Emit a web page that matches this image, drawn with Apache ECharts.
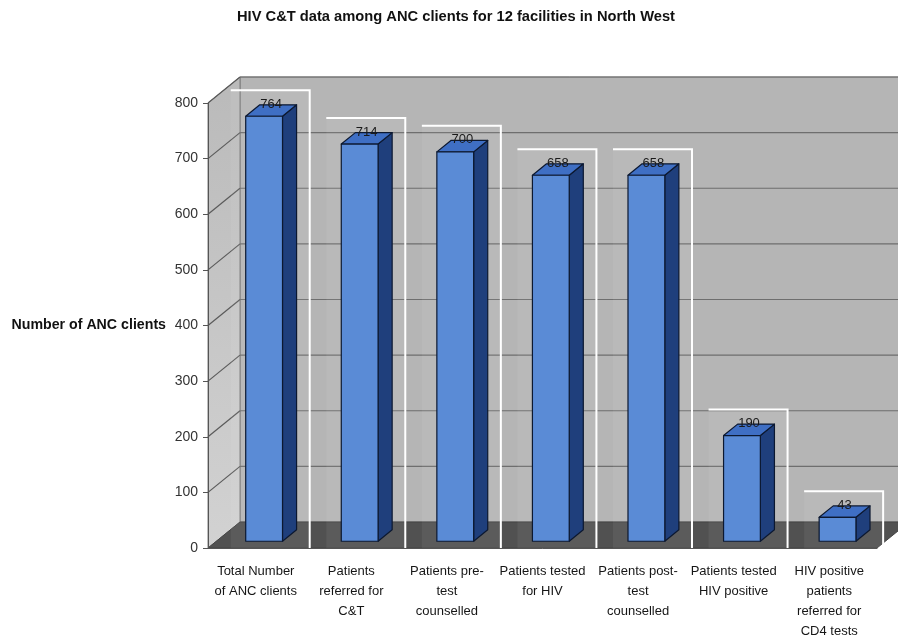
<!DOCTYPE html>
<html>
<head>
<meta charset="utf-8">
<script src="https://cdn.jsdelivr.net/npm/echarts@6/dist/echarts.min.js"></script>
<style>
  html, body { margin: 0; padding: 0; background: #ffffff; }
  #chart { width: 898px; height: 641px; }
</style>
</head>
<body>
<div id="chart"></div>
<script>
// ---- data ----
const categories = [
  'Total Number\nof ANC clients',
  'Patients\nreferred for\nC&T',
  'Patients pre-\ntest\ncounselled',
  'Patients tested\nfor HIV',
  'Patients post-\ntest\ncounselled',
  'Patients tested\nHIV positive',
  'HIV positive\npatients\nreferred for\nCD4 tests'
];
const clientCounts = [764, 714, 700, 658, 658, 190, 43];
const yTicks = [0, 100, 200, 300, 400, 500, 600, 700, 800];
const chartTitle = 'HIV C&T data among ANC clients for 12 facilities in North West';
const yAxisTitle = 'Number of ANC clients';

// ---- 3D look ----
const FONT = '"Liberation Sans", Arial, Helvetica, sans-serif';
const DX = 32, DY = -26;          // depth of the plot box (pixels)
const BAR_OFFSET = 0.26;          // bar front plane, as a share of the depth
const BAR_DEPTH = 0.44;           // bar thickness, as a share of the depth
const BAR_WIDTH = 0.385;          // front face width, as a share of the band

const yMax = yTicks[yTicks.length - 1];

// Walls, floor and gridlines of the 3D box
function renderWalls(params, api) {
  const n = categories.length;
  const bw = api.size([1, 0])[0];
  const x0 = api.coord([0, 0])[0] - bw / 2;
  const x1 = api.coord([n - 1, 0])[0] + bw / 2;
  const yBase = api.coord([0, 0])[1];
  const yTop = api.coord([0, yMax])[1];
  const children = [];

  // back wall
  children.push({
    type: 'polygon',
    shape: { points: [[x0 + DX, yTop + DY], [x1 + DX, yTop + DY], [x1 + DX, yBase + DY], [x0 + DX, yBase + DY]] },
    style: { fill: '#b5b5b5', stroke: '#7d7d7d', lineWidth: 1 }
  });
  // left side wall
  children.push({
    type: 'polygon',
    shape: { points: [[x0, yTop], [x0 + DX, yTop + DY], [x0 + DX, yBase + DY], [x0, yBase]] },
    style: {
      fill: { type: 'linear', x: 0, y: 0, x2: 0, y2: 1,
        colorStops: [{ offset: 0, color: '#bababa' }, { offset: 1, color: '#d2d2d2' }] },
      stroke: '#7d7d7d', lineWidth: 1
    }
  });
  // gridlines on both walls
  yTicks.forEach(function (v) {
    if (v === 0) return;
    const y = api.coord([0, v])[1];
    children.push({
      type: 'line',
      shape: { x1: x0 + DX, y1: y + DY, x2: x1 + DX, y2: y + DY },
      style: { stroke: '#6e6e6e', lineWidth: 1.2 }
    });
    children.push({
      type: 'line',
      shape: { x1: x0, y1: y, x2: x0 + DX, y2: y + DY },
      style: { stroke: '#5a5a5a', lineWidth: 1.2 }
    });
  });
  // floor
  children.push({
    type: 'polygon',
    shape: { points: [[x0, yBase], [x1, yBase], [x1 + DX, yBase + DY], [x0 + DX, yBase + DY]] },
    style: { fill: '#515151', stroke: '#444444', lineWidth: 1 }
  });
  return { type: 'group', children: children };
}

function barGeometry(api) {
  const i = api.value(0), v = api.value(1);
  const base = api.coord([i, 0]);
  const top = api.coord([i, v]);
  const bw = api.size([1, 0])[0];
  const w = bw * BAR_WIDTH;
  const ox = DX * BAR_OFFSET, oy = DY * BAR_OFFSET;
  const dx = DX * BAR_DEPTH, dy = DY * BAR_DEPTH;
  const xl = base[0] - w / 2 + ox;
  return { xl: xl, xr: xl + w, yb: base[1] + oy, yt: top[1] + oy, dx: dx, dy: dy, w: w, yAxis: base[1], v: v };
}

// Light frames standing behind each bar
function renderFrames(params, api) {
  const g = barGeometry(api);
  const left = g.xl - 15, right = g.xl + 64, top = g.yt - 26, bottom = g.yAxis + 3;
  return {
    type: 'group',
    children: [
      { type: 'rect', shape: { x: left, y: top, width: right - left, height: bottom - top },
        style: { fill: 'rgba(255,255,255,0.06)' } },
      { type: 'polyline', shape: { points: [[left, top], [right, top], [right, bottom]] },
        style: { stroke: '#ffffff', lineWidth: 2, fill: null } }
    ]
  };
}

// 3D bars: front face, side, top, and the value label
function renderBar(params, api) {
  const g = barGeometry(api);
  const edge = { stroke: '#0c1830', lineWidth: 1.2, lineJoin: 'round' };
  return {
    type: 'group',
    children: [
      { type: 'polygon',
        shape: { points: [[g.xr, g.yt], [g.xr + g.dx, g.yt + g.dy], [g.xr + g.dx, g.yb + g.dy], [g.xr, g.yb]] },
        style: Object.assign({ fill: '#1f3f7c' }, edge) },
      { type: 'polygon',
        shape: { points: [[g.xl, g.yt], [g.xl + g.dx, g.yt + g.dy], [g.xr + g.dx, g.yt + g.dy], [g.xr, g.yt]] },
        style: Object.assign({ fill: '#3f6fc4' }, edge) },
      { type: 'rect',
        shape: { x: g.xl, y: g.yt, width: g.w, height: g.yb - g.yt },
        style: Object.assign({ fill: '#5a8bd6' }, edge) },
      { type: 'text',
        style: { text: String(g.v), x: (g.xl + g.xr) / 2 + g.dx / 2, y: g.yt - 12,
          align: 'center', verticalAlign: 'middle',
          font: '13px ' + FONT, fill: '#1a1a1a' } }
    ]
  };
}

const barData = clientCounts.map(function (v, i) { return [i, v]; });

const chart = echarts.init(document.getElementById('chart'), null, { renderer: 'canvas' });
chart.setOption({
  animation: false,
  backgroundColor: '#ffffff',
  title: {
    text: chartTitle,
    left: 232,
    top: 4,
    padding: 5,
    textStyle: { fontFamily: FONT, fontSize: 14.7, fontWeight: 'bold', color: '#111111' }
  },
  grid: { left: 208, right: 21, top: 103, bottom: 91, containLabel: false },
  xAxis: {
    type: 'category',
    data: categories,
    z: 10,
    axisLine: { lineStyle: { color: '#555555', width: 1 } },
    axisTick: { length: 4, lineStyle: { color: '#555555' } },
    axisLabel: { interval: 0, fontFamily: FONT, fontSize: 13, lineHeight: 20, color: '#161616', margin: 13 },
    splitLine: { show: false }
  },
  yAxis: {
    type: 'value',
    min: 0,
    max: yMax,
    interval: 100,
    z: 10,
    name: yAxisTitle,
    nameLocation: 'middle',
    nameRotate: 0,
    nameGap: 42,
    nameTextStyle: { fontFamily: FONT, fontSize: 14.2, fontWeight: 'bold', color: '#111111' },
    axisLine: { show: true, lineStyle: { color: '#555555', width: 1 } },
    axisTick: { show: true, length: 5, lineStyle: { color: '#555555' } },
    axisLabel: { fontFamily: FONT, fontSize: 14, color: '#333333', margin: 10 },
    splitLine: { show: false }
  },
  series: [
    { type: 'custom', name: 'walls', renderItem: renderWalls, data: [[0, 0]], z: 1, silent: true, clip: false },
    { type: 'custom', name: 'frames', renderItem: renderFrames, data: barData, z: 2, silent: true, clip: false },
    { type: 'custom', name: 'Number of ANC clients', renderItem: renderBar, data: barData, z: 3, clip: false }
  ]
});
</script>
</body>
</html>
